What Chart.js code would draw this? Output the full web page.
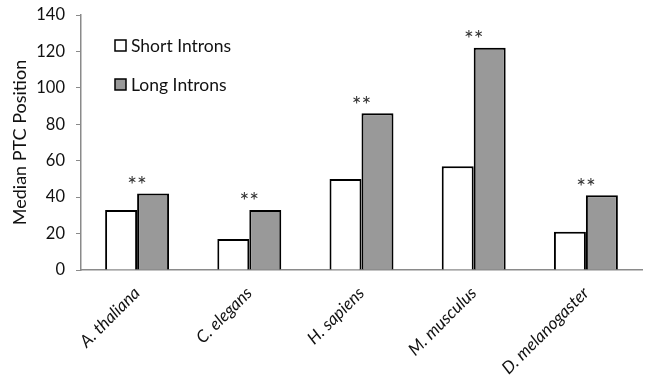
<!DOCTYPE html>
<html>
<head>
<meta charset="utf-8">
<script src="https://cdn.jsdelivr.net/npm/chart.js@4.4.0/dist/chart.umd.min.js"></script>
<style>
  html, body { margin: 0; padding: 0; background: #fff; }
  #wrap { width: 645px; height: 392px; }
</style>
</head>
<body>
<div id="wrap"><canvas id="ptc"></canvas></div>
<script>
// species and median PTC positions
const species = ['A. thaliana', 'C. elegans', 'H. sapiens', 'M. musculus', 'D. melanogaster'];
const shortIntrons = [33, 17, 50, 57, 21];
const longIntrons = [42, 33, 86, 122, 41];
const signif = ['**', '**', '**', '**', '**'];
const yTicks = [0, 20, 40, 60, 80, 100, 120, 140];

const axisColor = '#8a8a8a';
const fontFam = 'Lato, "Open Sans", sans-serif';

// stars over each pair of bars
const starsPlugin = {
  id: 'stars',
  afterDatasetsDraw(chart) {
    const ctx = chart.ctx;
    const m0 = chart.getDatasetMeta(0);
    const m1 = chart.getDatasetMeta(1);
    ctx.save();
    ctx.fillStyle = '#333';
    ctx.font = '23px ' + fontFam;
    ctx.textAlign = 'center';
    ctx.textBaseline = 'middle';
    signif.forEach((s, i) => {
      const a = m0.data[i], b = m1.data[i];
      const x = (a.x + b.x) / 2;
      const top = Math.min(a.y, b.y);
      ctx.fillText(s, x, top - 8);
    });
    ctx.restore();
  }
};

// legend drawn inside the plot, top left
const boxLegend = {
  id: 'boxLegend',
  afterDraw(chart) {
    const ctx = chart.ctx;
    const area = chart.chartArea;
    ctx.save();
    ctx.font = '17.5px ' + fontFam;
    ctx.textBaseline = 'middle';
    chart.data.datasets.forEach((ds, i) => {
      const x = area.left + 34;
      const y = area.top + 31 + i * 39;
      ctx.fillStyle = ds.backgroundColor;
      ctx.fillRect(x, y - 6, 11, 11);
      ctx.strokeStyle = '#000';
      ctx.lineWidth = 1.5;
      ctx.strokeRect(x, y - 6, 11, 11);
      ctx.fillStyle = '#111';
      ctx.fillText(ds.label, x + 16, y);
    });
    ctx.restore();
  }
};

new Chart(document.getElementById('ptc'), {
  type: 'bar',
  data: {
    labels: species,
    datasets: [
      { label: 'Short Introns', data: shortIntrons, backgroundColor: '#ffffff', borderColor: '#000', borderWidth: 2 },
      { label: 'Long Introns', data: longIntrons, backgroundColor: '#999999', borderColor: '#000', borderWidth: 2 }
    ]
  },
  options: {
    responsive: true,
    maintainAspectRatio: false,
    animation: false,
    categoryPercentage: 0.57,
    barPercentage: 1.0,
    layout: { padding: { top: 15, right: 3, left: 0, bottom: 0 } },
    plugins: {
      legend: { display: false },
      tooltip: { enabled: false }
    },
    scales: {
      x: {
        grid: { display: false, drawOnChartArea: false, drawTicks: true, offset: true, tickLength: 5, color: axisColor },
        border: { color: axisColor, width: 1.5 },
        ticks: {
          color: '#111',
          font: { family: fontFam, size: 17, style: 'italic' },
          maxRotation: 45,
          minRotation: 45,
          padding: 8
        },
        afterFit(scale) { scale.height = 122; }
      },
      y: {
        min: 0,
        max: 140,
        afterBuildTicks(scale) { scale.ticks = yTicks.map(v => ({ value: v })); },
        grid: { drawOnChartArea: false, drawTicks: true, tickLength: 5, color: axisColor },
        border: { color: axisColor, width: 1.5 },
        ticks: {
          color: '#111',
          font: { family: fontFam, size: 16.5 },
          padding: 11
        },
        title: {
          display: true,
          text: 'Median PTC Position',
          color: '#111',
          font: { family: fontFam, size: 18 },
          padding: { top: 9, bottom: 0 }
        },
        afterFit(scale) {
          scale.width = 81;
          scale.paddingTop = 0;
          scale.paddingBottom = 0;
        }
      }
    }
  },
  plugins: [starsPlugin, boxLegend]
});
</script>
</body>
</html>
